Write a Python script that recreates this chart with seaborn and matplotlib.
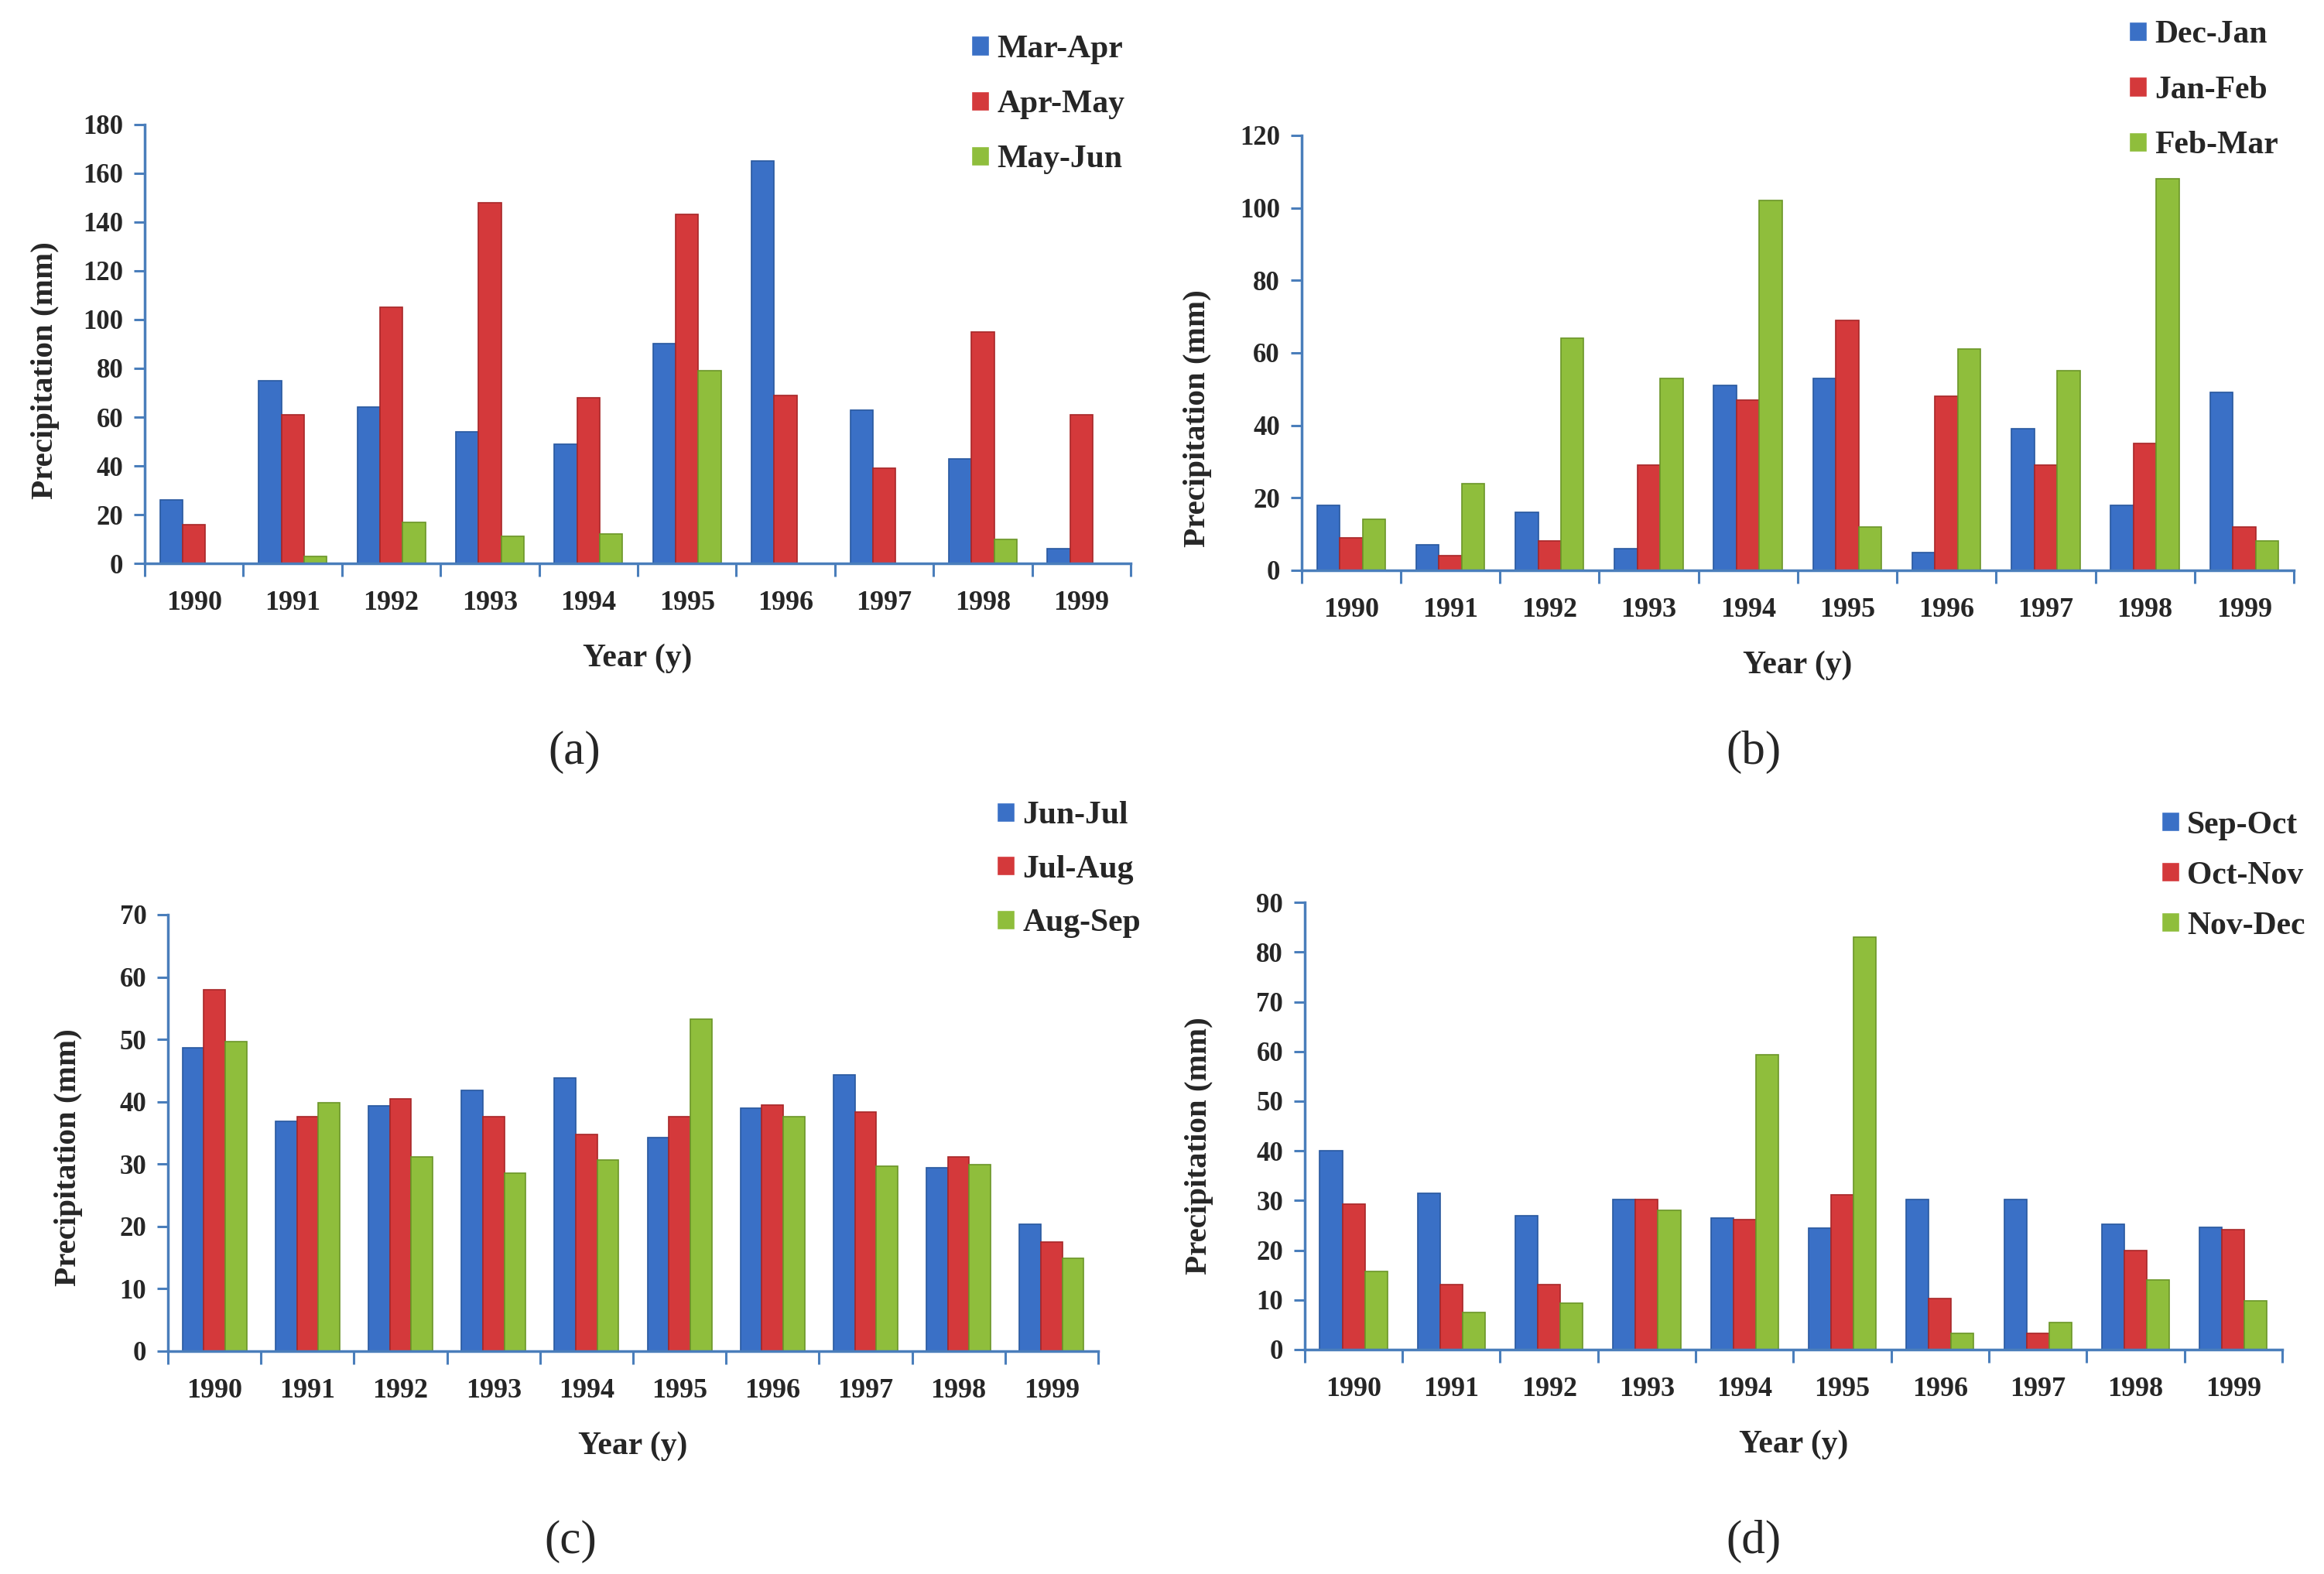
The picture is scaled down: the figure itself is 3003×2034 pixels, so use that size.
import numpy as np
import pandas as pd
import seaborn as sns
import matplotlib.pyplot as plt
from matplotlib.ticker import MultipleLocator, FixedLocator

years = [str(y) for y in range(1990, 2000)]

# (a) spring periods
names_a = ['Mar-Apr', 'Apr-May', 'May-Jun']
mar_apr = [26, 75, 64, 54, 49, 90, 165, 63, 43, 6]
apr_may = [16, 61, 105, 148, 68, 143, 69, 39, 95, 61]
may_jun = [0, 3, 17, 11, 12, 79, 0, 0, 10, 0]

# (b) winter periods
names_b = ['Dec-Jan', 'Jan-Feb', 'Feb-Mar']
dec_jan = [18, 7, 16, 6, 51, 53, 5, 39, 18, 49]
jan_feb = [9, 4, 8, 29, 47, 69, 48, 29, 35, 12]
feb_mar = [14, 24, 64, 53, 102, 12, 61, 55, 108, 8]

# (c) summer periods
names_c = ['Jun-Jul', 'Jul-Aug', 'Aug-Sep']
jun_jul = [48.7, 36.8, 39.3, 41.8, 43.8, 34.2, 39.0, 44.3, 29.4, 20.3]
jul_aug = [58.0, 37.6, 40.5, 37.6, 34.8, 37.6, 39.5, 38.3, 31.2, 17.5]
aug_sep = [49.7, 39.8, 31.2, 28.6, 30.6, 53.2, 37.6, 29.6, 29.9, 14.9]

# (d) autumn periods
names_d = ['Sep-Oct', 'Oct-Nov', 'Nov-Dec']
sep_oct = [40, 31.5, 27, 30.2, 26.5, 24.4, 30.2, 30.2, 25.2, 24.6]
oct_nov = [29.3, 13, 13, 30.2, 26.2, 31.2, 10.2, 3.3, 20, 24.2]
nov_dec = [15.8, 7.4, 9.3, 28, 59.3, 83, 3.3, 5.5, 14, 9.8]

sns.set_theme(style='white')
plt.rcParams['font.family'] = ['Liberation Serif', 'DejaVu Serif']
plt.rcParams['font.weight'] = 'bold'
plt.rcParams['axes.labelweight'] = 'bold'

colors = ['#3a70c6', '#d4393b', '#8fbe3c']
edges = ['#28589f', '#a82628', '#6b9628']
axis_blue = '#4a7ebb'

fig = plt.figure(figsize=(30.03, 20.34), dpi=100)


def panel(rect, series, names, ymax, ystep, leg_xy, spacing, tag, tag_xy, ypad, ylab_y):
    ax = fig.add_axes(rect)
    df = pd.DataFrame({
        'Year': years * 3,
        'mm': series[0] + series[1] + series[2],
        'Period': [n for n in names for _ in years],
    })
    sns.barplot(data=df, x='Year', y='mm', hue='Period', hue_order=names,
                palette=colors, saturation=1, width=0.69, errorbar=None, ax=ax)
    for cont, ec in zip(ax.containers, edges):
        for bar in cont:
            bar.set_edgecolor(ec)
            bar.set_linewidth(1.2)

    ax.set_xlim(-0.5, 9.5)
    ax.set_ylim(0, ymax)
    ax.yaxis.set_major_locator(MultipleLocator(ystep))
    ax.xaxis.set_minor_locator(FixedLocator(np.arange(-0.5, 10, 1)))
    for side in ['top', 'right']:
        ax.spines[side].set_visible(False)
    for side in ['left', 'bottom']:
        ax.spines[side].set_color(axis_blue)
        ax.spines[side].set_linewidth(2.5)
    ax.tick_params(axis='y', left=True, direction='out', length=10, width=2.2,
                   color=axis_blue, labelsize=25, pad=10)
    ax.tick_params(axis='x', which='major', bottom=True, length=0, labelsize=26, pad=25)
    ax.tick_params(axis='x', which='minor', bottom=True, direction='out', length=12,
                   width=2.2, color=axis_blue)

    ax.set_xlabel('Year (y)', fontsize=30, fontweight='bold', labelpad=26)
    ax.set_ylabel('Precipitation (mm)', fontsize=29.5, fontweight='bold', labelpad=ypad)
    ax.yaxis.label.set_y(ylab_y)

    old = ax.get_legend()
    handles = old.legend_handles
    labels = [t.get_text() for t in old.get_texts()]
    ax.legend(handles, labels, loc='upper left', bbox_to_anchor=leg_xy,
              bbox_transform=fig.transFigure, frameon=False, fontsize=30,
              handlelength=0.55, handleheight=0.55, handletextpad=0.25,
              labelspacing=spacing, borderpad=0, borderaxespad=0)

    fig.text(tag_xy[0], tag_xy[1], tag, fontsize=44, fontweight='normal',
             ha='center', va='center')
    return ax


panel([0.0623, 0.642, 0.4242, 0.279], [mar_apr, apr_may, may_jun], names_a,
      180, 20, (0.418, 0.978), 0.8, '(a)', (0.247, 0.522), 22, 0.44)
panel([0.560, 0.6377, 0.427, 0.2763], [dec_jan, jan_feb, feb_mar], names_b,
      120, 20, (0.916, 0.987), 0.8, '(b)', (0.7545, 0.522), 26, 0.35)
panel([0.0723, 0.1416, 0.4002, 0.2773], [jun_jul, jul_aug, aug_sep], names_c,
      70, 10, (0.429, 0.491), 0.75, '(c)', (0.2455, 0.0205), 34, 0.444)
panel([0.5614, 0.1426, 0.4206, 0.2841], [sep_oct, oct_nov, nov_dec], names_d,
      90, 10, (0.93, 0.485), 0.65, '(d)', (0.7545, 0.0205), 40, 0.455)

fig.savefig('out.png', dpi=100, facecolor='white')
